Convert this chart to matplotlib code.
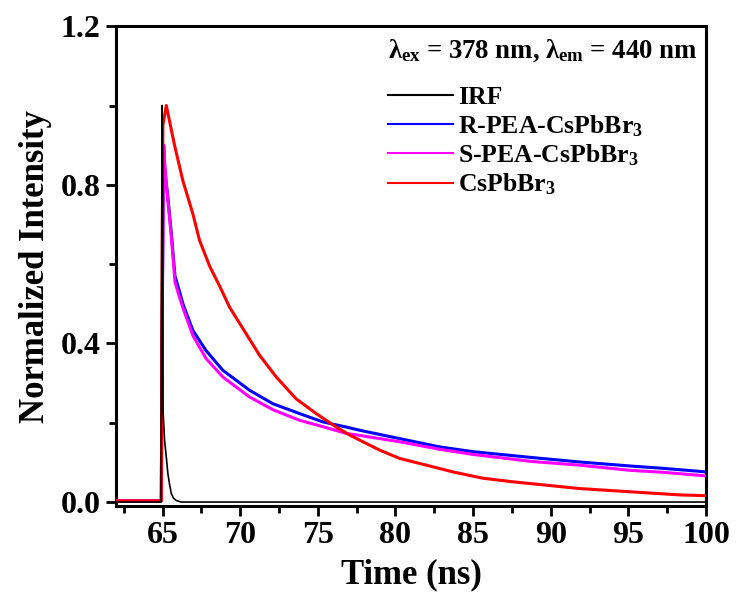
import numpy as np
import matplotlib
matplotlib.use('Agg')
import matplotlib.pyplot as plt
from matplotlib.ticker import MultipleLocator

plt.rcParams['font.family'] = ['Liberation Serif', 'DejaVu Serif']
plt.rcParams['font.weight'] = 'bold'
plt.rcParams['mathtext.fontset'] = 'custom'
plt.rcParams['mathtext.rm'] = 'Liberation Serif:bold'
plt.rcParams['mathtext.it'] = 'Liberation Serif:bold'
plt.rcParams['mathtext.bf'] = 'Liberation Serif:bold'

# values (time in ns, normalized intensity)
t_irf = [62, 64.9, 64.97, 65.0, 65.03, 65.13, 65.25, 65.34, 65.45, 65.56, 65.7, 65.88, 66.2, 100]
y_irf = [0, 0, 1.0, 0.83, 0.23, 0.156, 0.11, 0.072, 0.045, 0.022, 0.01, 0.004, 0, 0]

t_r = [62, 64.92, 64.97, 65.05, 65.13, 65.34, 65.56, 65.8, 66.1, 66.31, 66.95, 67.8, 68.89,
       70.6, 72.1, 73.83, 75.33, 76.84, 77.7, 80.27, 82.85, 85.0, 88.86, 91.87, 95.09, 97.24, 100]
y_r = [0.003, 0.003, 0.4, 0.87, 0.835, 0.77, 0.68, 0.57, 0.53, 0.50, 0.433, 0.382, 0.332,
       0.282, 0.248, 0.223, 0.202, 0.189, 0.181, 0.160, 0.139, 0.127, 0.112, 0.101, 0.091, 0.085, 0.076]

t_s = [62, 64.92, 64.97, 65.08, 65.13, 65.34, 65.56, 65.8, 66.1, 66.31, 66.95, 67.8, 68.89,
       70.6, 72.1, 73.83, 75.33, 76.84, 77.7, 80.27, 82.85, 85.0, 88.86, 91.87, 95.09, 97.24, 100]
y_s = [0.003, 0.003, 0.45, 0.9, 0.86, 0.76, 0.67, 0.555, 0.515, 0.49, 0.42, 0.362, 0.315,
       0.265, 0.233, 0.206, 0.19, 0.173, 0.168, 0.152, 0.133, 0.12, 0.102, 0.093, 0.08, 0.075, 0.066]

t_cs = [62, 64.92, 64.97, 65.02, 65.24, 65.77, 66.31, 66.95, 67.38, 68.03, 68.67, 69.32, 70.39,
        71.25, 72.33, 73.61, 74.9, 76.19, 77.05, 77.7, 78.98, 80.27, 81.99, 83.7, 85.64, 87.57,
        89.08, 91.87, 95.09, 98.3, 100]
y_cs = [0.003, 0.003, 0.6, 0.95, 1.0, 0.90, 0.81, 0.727, 0.66, 0.595, 0.545, 0.491, 0.424,
        0.37, 0.315, 0.26, 0.223, 0.189, 0.169, 0.156, 0.131, 0.110, 0.093, 0.076, 0.060, 0.051,
        0.045, 0.034, 0.026, 0.018, 0.016]

fig = plt.figure(figsize=(7.36, 5.96), dpi=100)
ax = fig.add_axes([0.1576, 0.151, 0.8016, 0.805])

ax.plot(t_irf, y_irf, color='black', lw=1.2, label='IRF', zorder=5)
ax.plot(t_r, y_r, color='#0000FF', lw=2.2, label='R-PEA-CsPbBr$_3$', zorder=2)
ax.plot(t_s, y_s, color='#FF00FF', lw=2.2, label='S-PEA-CsPbBr$_3$', zorder=3)
ax.plot(t_cs, y_cs, color='#FF0000', lw=2.2, label='CsPbBr$_3$', zorder=4)

ax.set_xlim(62, 100)
ax.set_ylim(-0.01, 1.2)
ax.xaxis.set_major_locator(MultipleLocator(5))
ax.xaxis.set_minor_locator(MultipleLocator(2.5))
ax.yaxis.set_major_locator(MultipleLocator(0.4))
ax.yaxis.set_minor_locator(MultipleLocator(0.2))
ax.yaxis.set_major_formatter(plt.FormatStrFormatter('%.1f'))

for s in ax.spines.values():
    s.set_linewidth(2.2)
ax.tick_params(which='major', direction='out', length=7, width=2, labelsize=23, pad=4)
ax.tick_params(which='minor', direction='out', length=5, width=2)

ax.set_xlabel('Time (ns)', fontsize=25, fontweight='bold', labelpad=6)
ax.set_ylabel('Normalized Intensity', fontsize=25, fontweight='bold', labelpad=6)

ax.text(0.461, 0.95, r'$\lambda_{ex}$ = 378 nm, $\lambda_{em}$ = 440 nm', transform=ax.transAxes,
        fontsize=19.3, fontweight='bold', ha='left', va='center')

leg = ax.legend(loc='upper left', bbox_to_anchor=(0.44, 0.902), frameon=False,
                prop={'size': 18.5, 'weight': 'bold'},
                handlelength=2.5, handletextpad=0.2, labelspacing=0.15, borderpad=0)
for line in leg.get_lines():
    line.set_linewidth(1.5)

fig.savefig('out.png', dpi=100)
